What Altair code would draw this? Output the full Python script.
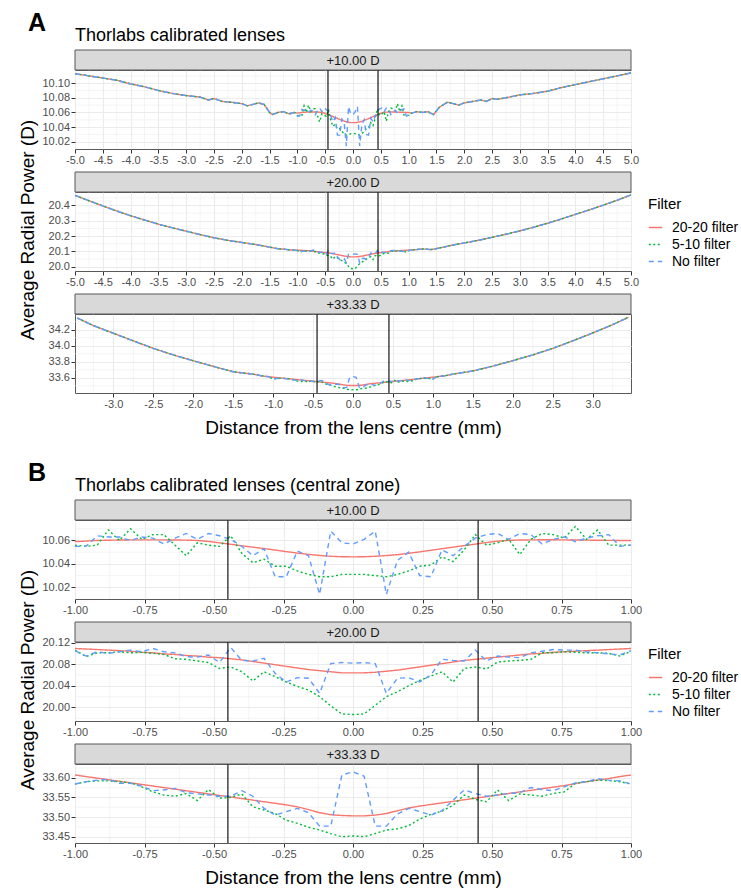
import altair as alt
import pandas as pd

FONT = "Liberation Sans"
W = 556
H = 79
STRIP = 20

FILTERS = ["20-20 filter", "5-10 filter", "No filter"]
COLORS = ["#F8766D", "#00BA38", "#619CFF"]
DASHES = [[1, 0], [2, 2.5], [5, 4]]
LENSES = ["+10.00 D", "+20.00 D", "+33.33 D"]
FIG_LETTERS = ["A", "B"]
FIG_TITLES = ["Thorlabs calibrated lenses", "Thorlabs calibrated lenses (central zone)"]
ZONE_EDGES = [-0.45, 0.45]
X_TITLE = "Distance from the lens centre (mm)"
Y_TITLE = "Average Radial Power (D)"

# ---------- central zone samples (mm) ----------
X_C = [-1.00, -0.96, -0.92, -0.88, -0.84, -0.80, -0.76, -0.72, -0.68, -0.64,
       -0.60, -0.56, -0.52, -0.48, -0.44, -0.40, -0.36, -0.32, -0.28, -0.24,
       -0.20, -0.16, -0.12, -0.08, -0.04, 0.00, 0.04, 0.08, 0.12, 0.16,
       0.20, 0.24, 0.28, 0.32, 0.36, 0.40, 0.44, 0.48, 0.52, 0.56,
       0.60, 0.64, 0.68, 0.72, 0.76, 0.80, 0.84, 0.88, 0.92, 0.96, 1.00]

C10_2020 = [10.0590, 10.0595, 10.0600, 10.0602, 10.0604, 10.0605, 10.0605, 10.0605, 10.0605, 10.0604,
            10.0603, 10.0600, 10.0592, 10.0580, 10.0568, 10.0555, 10.0543, 10.0531, 10.0518, 10.0505,
            10.0492, 10.0481, 10.0472, 10.0465, 10.0461, 10.0460, 10.0461, 10.0465, 10.0471, 10.0479,
            10.0490, 10.0503, 10.0516, 10.0530, 10.0543, 10.0556, 10.0569, 10.0582, 10.0594, 10.0601,
            10.0604, 10.0605, 10.0606, 10.0606, 10.0605, 10.0604, 10.0603, 10.0602, 10.0601, 10.0600, 10.0600]
C10_510 = [10.056, 10.055, 10.056, 10.069, 10.060, 10.070, 10.061, 10.065, 10.065, 10.056,
           10.047, 10.058, 10.056, 10.055, 10.064, 10.049, 10.041, 10.044, 10.038, 10.038,
           10.034, 10.031, 10.029, 10.029, 10.031, 10.031, 10.031, 10.030, 10.029, 10.031,
           10.034, 10.038, 10.039, 10.046, 10.042, 10.052, 10.065, 10.056, 10.058, 10.061,
           10.048, 10.061, 10.066, 10.065, 10.062, 10.072, 10.061, 10.069, 10.056, 10.056, 10.056]
C10_NONE = [10.055, 10.055, 10.064, 10.063, 10.063, 10.060, 10.063, 10.062, 10.057, 10.062,
            10.066, 10.061, 10.066, 10.064, 10.061, 10.055, 10.047, 10.053, 10.029, 10.029,
            10.051, 10.047, 10.014, 10.068, 10.058, 10.057, 10.061, 10.068, 10.014, 10.043,
            10.050, 10.030, 10.029, 10.052, 10.047, 10.055, 10.062, 10.065, 10.066, 10.061,
            10.066, 10.065, 10.057, 10.061, 10.063, 10.059, 10.062, 10.064, 10.065, 10.055, 10.056]

C20_2020 = [20.109, 20.108, 20.107, 20.106, 20.105, 20.104, 20.102, 20.101, 20.099, 20.098,
            20.096, 20.095, 20.093, 20.092, 20.090, 20.088, 20.085, 20.082, 20.079, 20.076,
            20.073, 20.070, 20.068, 20.066, 20.064, 20.064, 20.064, 20.065, 20.067, 20.069,
            20.072, 20.075, 20.078, 20.081, 20.084, 20.087, 20.089, 20.091, 20.093, 20.095,
            20.097, 20.099, 20.100, 20.102, 20.103, 20.104, 20.105, 20.106, 20.107, 20.108, 20.109]
C20_510 = [20.106, 20.094, 20.101, 20.101, 20.103, 20.101, 20.102, 20.100, 20.098, 20.090,
           20.089, 20.086, 20.083, 20.072, 20.075, 20.066, 20.049, 20.066, 20.057, 20.047,
           20.039, 20.032, 20.020, 20.003, 19.988, 19.987, 19.988, 20.004, 20.020, 20.029,
           20.040, 20.050, 20.058, 20.066, 20.047, 20.072, 20.075, 20.071, 20.084, 20.086,
           20.087, 20.089, 20.101, 20.101, 20.103, 20.102, 20.101, 20.101, 20.100, 20.095, 20.104]
C20_NONE = [20.105, 20.095, 20.103, 20.100, 20.103, 20.106, 20.103, 20.109, 20.103, 20.101,
            20.094, 20.093, 20.097, 20.083, 20.111, 20.087, 20.086, 20.091, 20.063, 20.047,
            20.055, 20.054, 20.026, 20.081, 20.083, 20.082, 20.083, 20.081, 20.026, 20.054,
            20.055, 20.047, 20.060, 20.089, 20.087, 20.086, 20.106, 20.086, 20.095, 20.093,
            20.092, 20.101, 20.104, 20.107, 20.106, 20.106, 20.103, 20.101, 20.099, 20.097, 20.105]

C33_2020 = [33.607, 33.603, 33.599, 33.595, 33.591, 33.587, 33.583, 33.579, 33.575, 33.571,
            33.567, 33.563, 33.559, 33.555, 33.551, 33.547, 33.543, 33.539, 33.535, 33.531,
            33.526, 33.519, 33.511, 33.506, 33.504, 33.503, 33.503, 33.505, 33.509, 33.516,
            33.523, 33.528, 33.532, 33.536, 33.540, 33.544, 33.548, 33.552, 33.556, 33.560,
            33.564, 33.568, 33.572, 33.576, 33.580, 33.585, 33.590, 33.594, 33.598, 33.603, 33.607]
C33_510 = [33.584, 33.590, 33.592, 33.592, 33.590, 33.587, 33.577, 33.564, 33.556, 33.553,
           33.560, 33.542, 33.570, 33.548, 33.550, 33.559, 33.526, 33.518, 33.509, 33.492,
           33.484, 33.474, 33.467, 33.458, 33.450, 33.452, 33.450, 33.458, 33.467, 33.470,
           33.478, 33.495, 33.507, 33.515, 33.530, 33.556, 33.545, 33.539, 33.569, 33.542,
           33.559, 33.556, 33.553, 33.560, 33.564, 33.586, 33.590, 33.594, 33.593, 33.590, 33.584]
C33_NONE = [33.584, 33.590, 33.594, 33.596, 33.586, 33.586, 33.579, 33.567, 33.569, 33.573,
            33.562, 33.559, 33.556, 33.553, 33.553, 33.567, 33.553, 33.522, 33.505, 33.514,
            33.522, 33.511, 33.477, 33.477, 33.607, 33.615, 33.604, 33.477, 33.477, 33.508,
            33.522, 33.514, 33.505, 33.516, 33.543, 33.569, 33.560, 33.553, 33.556, 33.560,
            33.562, 33.575, 33.570, 33.567, 33.577, 33.587, 33.590, 33.598, 33.594, 33.592, 33.584]

# ---------- outer zone (full-profile panels) ----------
O10_LX = [-5.0, -4.75, -4.5, -4.25, -4.0, -3.75, -3.5, -3.25, -3.0, -2.75, -2.6, -2.5, -2.35,
          -2.2, -2.0, -1.9, -1.8, -1.7, -1.6, -1.5, -1.45, -1.35, -1.25, -1.15, -1.05]
O10_LY = [10.113, 10.110, 10.107, 10.104, 10.099, 10.095, 10.090, 10.086, 10.083, 10.081, 10.077,
          10.079, 10.075, 10.074, 10.072, 10.069, 10.071, 10.073, 10.071, 10.060, 10.057, 10.060,
          10.061, 10.058, 10.060]
O10_RX = [1.05, 1.15, 1.25, 1.35, 1.45, 1.55, 1.7, 1.8, 1.9, 2.0, 2.15, 2.3, 2.4, 2.5, 2.6,
          2.75, 3.0, 3.25, 3.5, 3.75, 4.0, 4.25, 4.5, 4.75, 5.0]
O10_RY = [10.059, 10.061, 10.060, 10.061, 10.057, 10.067, 10.074, 10.072, 10.070, 10.073, 10.075,
          10.077, 10.075, 10.079, 10.078, 10.080, 10.084, 10.086, 10.089, 10.094, 10.098, 10.102,
          10.106, 10.110, 10.114]

O20_LX = [-5.0, -4.75, -4.5, -4.25, -4.0, -3.75, -3.5, -3.25, -3.0, -2.75, -2.5, -2.25, -2.0,
          -1.75, -1.5, -1.35, -1.25, -1.15, -1.05]
O20_LY = [20.466, 20.431, 20.397, 20.364, 20.333, 20.305, 20.278, 20.254, 20.232, 20.210, 20.189,
          20.172, 20.158, 20.145, 20.128, 20.117, 20.115, 20.110, 20.108]
O20_RX = [1.05, 1.15, 1.25, 1.4, 1.5, 1.65, 1.8, 2.0, 2.25, 2.5, 2.75, 3.0, 3.25, 3.5, 3.75,
          4.0, 4.25, 4.5, 4.75, 5.0]
O20_RY = [20.109, 20.112, 20.116, 20.112, 20.118, 20.130, 20.142, 20.155, 20.172, 20.192, 20.212,
          20.234, 20.258, 20.284, 20.312, 20.342, 20.371, 20.402, 20.434, 20.469]

O33_LX = [-3.45, -3.25, -3.0, -2.75, -2.5, -2.25, -2.0, -1.75, -1.5, -1.4, -1.25, -1.15, -1.05]
O33_LY = [34.345, 34.250, 34.155, 34.060, 33.966, 33.885, 33.812, 33.742, 33.675, 33.662, 33.645,
          33.625, 33.612]
O33_RX = [1.05, 1.15, 1.25, 1.5, 1.75, 2.0, 2.25, 2.5, 2.75, 3.0, 3.25, 3.45]
O33_RY = [33.612, 33.625, 33.645, 33.685, 33.745, 33.813, 33.885, 33.966, 34.060, 34.158, 34.262,
          34.355]

# ---------- axis breaks (major = labelled, minor = grid only) ----------
AX_MAJOR = [-5.0, -4.5, -4.0, -3.5, -3.0, -2.5, -2.0, -1.5, -1.0, -0.5, 0.0, 0.5, 1.0, 1.5,
            2.0, 2.5, 3.0, 3.5, 4.0, 4.5, 5.0]
AX_MINOR = [-4.75, -4.25, -3.75, -3.25, -2.75, -2.25, -1.75, -1.25, -0.75, -0.25, 0.25, 0.75,
            1.25, 1.75, 2.25, 2.75, 3.25, 3.75, 4.25, 4.75]
A33X_MAJOR = [-3.0, -2.5, -2.0, -1.5, -1.0, -0.5, 0.0, 0.5, 1.0, 1.5, 2.0, 2.5, 3.0]
A33X_MINOR = [-3.25, -2.75, -2.25, -1.75, -1.25, -0.75, -0.25, 0.25, 0.75, 1.25, 1.75, 2.25,
              2.75, 3.25]
BX_MAJOR = [-1.0, -0.75, -0.5, -0.25, 0.0, 0.25, 0.5, 0.75, 1.0]
BX_MINOR = [-0.875, -0.625, -0.375, -0.125, 0.125, 0.375, 0.625, 0.875]
A10Y_MAJOR = [10.02, 10.04, 10.06, 10.08, 10.10]
A10Y_MINOR = [10.03, 10.05, 10.07, 10.09, 10.11]
A20Y_MAJOR = [20.0, 20.1, 20.2, 20.3, 20.4]
A20Y_MINOR = [20.05, 20.15, 20.25, 20.35, 20.45]
A33Y_MAJOR = [33.6, 33.8, 34.0, 34.2]
A33Y_MINOR = [33.5, 33.7, 33.9, 34.1, 34.3]
B10Y_MAJOR = [10.02, 10.04, 10.06]
B10Y_MINOR = [10.03, 10.05, 10.07]
B20Y_MAJOR = [20.00, 20.04, 20.08, 20.12]
B20Y_MINOR = [19.98, 20.02, 20.06, 20.10]
B33Y_MAJOR = [33.45, 33.50, 33.55, 33.60]
B33Y_MINOR = [33.475, 33.525, 33.575, 33.625]


def long_table(xs, series):
    rows = []
    for f, ys in zip(FILTERS, series):
        for x, y in zip(xs, ys):
            rows.append({"x": x, "y": y, "filter": f})
    return pd.DataFrame(rows)


def full_table(lx, ly, rx, ry, central):
    xs = lx + X_C + rx
    return long_table(xs, [ly + c + ry for c in central])


def axis(vals, fmt, **kw):
    return alt.Axis(
        values=vals,
        labelExpr=f"(datum.value < 0 ? '-' : '') + format(abs(datum.value), '{fmt}')",
        labelOverlap=False,
        labelFlush=False,
        **kw,
    )


def legend(ly):
    return alt.Legend(
        title="Filter", orient="none", legendX=W + 17, legendY=ly,
        titleFontSize=15, titleFontWeight="normal", titleColor="black", titleFont=FONT,
        labelFontSize=14, labelColor="black", labelFont=FONT,
        symbolType="stroke", symbolSize=180, symbolStrokeWidth=1.3,
        rowPadding=2, titlePadding=8, labelOffset=9,
    )


def panel(df, lens, xdom, ydom, xax, yax, xminor, yminor, leg, fig=None, xtitle=False, ytitle=False):
    xs = alt.Scale(domain=xdom, nice=False, zero=False)
    ys = alt.Scale(domain=ydom, nice=False, zero=False)
    xt = X_TITLE if xtitle else None
    yt = Y_TITLE if ytitle else None

    def X(f):
        return alt.X(f, scale=xs, axis=xax, title=xt)

    def Y(f):
        return alt.Y(f, scale=ys, axis=yax, title=yt)

    color = alt.Color("filter:N", scale=alt.Scale(domain=FILTERS, range=COLORS), legend=leg)
    dash = alt.StrokeDash("filter:N", scale=alt.Scale(domain=FILTERS, range=DASHES), legend=leg)
    gx = alt.Chart(pd.DataFrame({"v": xminor})).mark_rule(
        color="#EBEBEB", strokeWidth=0.55).encode(x=X("v:Q"))
    gy = alt.Chart(pd.DataFrame({"v": yminor})).mark_rule(
        color="#EBEBEB", strokeWidth=0.55).encode(y=Y("v:Q"))
    lines = alt.Chart(df).mark_line(strokeWidth=1.4, clip=True).encode(
        x=X("x:Q"), y=Y("y:Q"), color=color, strokeDash=dash)
    rules = alt.Chart(pd.DataFrame({"x": ZONE_EDGES})).mark_rule(
        color="black", strokeWidth=1.1).encode(x=X("x:Q"))
    lab = pd.DataFrame({"label": [lens]})
    strip = alt.Chart(lab).mark_rect(fill="#D9D9D9", stroke="#595959", strokeWidth=1).encode(
        x=alt.value(0), x2=alt.value(W), y=alt.value(-STRIP), y2=alt.value(0))
    stext = alt.Chart(lab).mark_text(font=FONT, fontSize=13, color="#1A1A1A",
                                     align="center", baseline="middle").encode(
        x=alt.value(W / 2), y=alt.value(-STRIP / 2 + 0.5), text="label:N")
    layers = [gx, gy, lines, rules, strip, stext]
    if fig is not None:
        letter, title = fig
        tdf = pd.DataFrame({"t": [title], "l": [letter]})
        layers.append(alt.Chart(tdf).mark_text(font=FONT, fontSize=18, color="black", align="left",
                                               baseline="alphabetic").encode(
            x=alt.value(0), y=alt.value(-29.5), text="t:N"))
        layers.append(alt.Chart(tdf).mark_text(font=FONT, fontSize=25, fontWeight="bold",
                                               color="black", align="left",
                                               baseline="alphabetic").encode(
            x=alt.value(-47), y=alt.value(-39), text="l:N"))
    return alt.layer(*layers).properties(width=W, height=H)


ytitle_kw = dict(titleX=-48, titleY=H / 2 - 2, titleAngle=270, titleAlign="center",
                 titleBaseline="middle")
xtitle_kw = dict(titleY=40, titleBaseline="alphabetic")

# Figure A
dA10 = full_table(O10_LX, O10_LY, O10_RX, O10_RY, [C10_2020, C10_510, C10_NONE])
dA20 = full_table(O20_LX, O20_LY, O20_RX, O20_RY, [C20_2020, C20_510, C20_NONE])
dA33 = full_table(O33_LX, O33_LY, O33_RX, O33_RY, [C33_2020, C33_510, C33_NONE])
legA = legend(127)
pA1 = panel(dA10, LENSES[0], [-5, 5], [10.010, 10.118], axis(AX_MAJOR, ".1f"),
            axis(A10Y_MAJOR, ".2f"), AX_MINOR, A10Y_MINOR, legA,
            fig=(FIG_LETTERS[0], FIG_TITLES[0]))
pA2 = panel(dA20, LENSES[1], [-5, 5], [19.972, 20.488], axis(AX_MAJOR, ".1f"),
            axis(A20Y_MAJOR, ".1f", **ytitle_kw), AX_MINOR, A20Y_MINOR, legA, ytitle=True)
pA3 = panel(dA33, LENSES[2], [-3.48, 3.48], [33.41, 34.395], axis(A33X_MAJOR, ".1f", **xtitle_kw),
            axis(A33Y_MAJOR, ".1f"), A33X_MINOR, A33Y_MINOR, legA, xtitle=True)
figA = alt.vconcat(pA1, pA2, pA3, spacing=43, bounds="flush")

# Figure B
dB10 = long_table(X_C, [C10_2020, C10_510, C10_NONE])
dB20 = long_table(X_C, [C20_2020, C20_510, C20_NONE])
dB33 = long_table(X_C, [C33_2020, C33_510, C33_NONE])
legB = legend(127)
pB1 = panel(dB10, LENSES[0], [-1, 1], [10.010, 10.0775], axis(BX_MAJOR, ".2f"),
            axis(B10Y_MAJOR, ".2f"), BX_MINOR, B10Y_MINOR, legB,
            fig=(FIG_LETTERS[1], FIG_TITLES[1]))
pB2 = panel(dB20, LENSES[1], [-1, 1], [19.975, 20.121], axis(BX_MAJOR, ".2f"),
            axis(B20Y_MAJOR, ".2f", **ytitle_kw), BX_MINOR, B20Y_MINOR, legB, ytitle=True)
pB3 = panel(dB33, LENSES[2], [-1, 1], [33.434, 33.635], axis(BX_MAJOR, ".2f", **xtitle_kw),
            axis(B33Y_MAJOR, ".2f"), BX_MINOR, B33Y_MINOR, legB, xtitle=True)
figB = alt.vconcat(pB1, pB2, pB3, spacing=43, bounds="flush")

chart = (
    alt.vconcat(figA, figB, spacing=22)
    .resolve_scale(color="independent", strokeDash="independent")
    .properties(padding={"left": 17, "top": 10, "right": 0, "bottom": 0}, background="white")
    .configure(font=FONT)
    .configure_view(stroke="#595959", strokeWidth=1)
    .configure_axis(
        gridColor="#EBEBEB", gridWidth=1.1, tickColor="#333333", tickSize=4, tickWidth=1,
        labelColor="#4D4D4D", labelFontSize=11, labelFont=FONT, labelPadding=1.5,
        domain=False, titleFont=FONT, titleFontSize=19, titleFontWeight="normal",
        titleColor="black",
    )
)

chart.save("out.html", embed_options={"renderer": "svg", "actions": False})
